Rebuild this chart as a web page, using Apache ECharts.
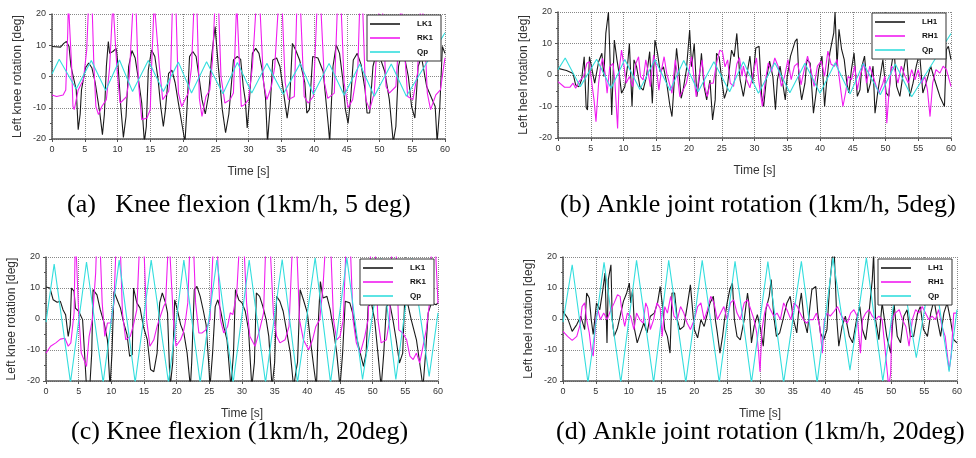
<!DOCTYPE html>
<html><head><meta charset="utf-8">
<script src="https://cdn.jsdelivr.net/npm/echarts@6/dist/echarts.min.js"></script>
<style>html,body{margin:0;padding:0;background:#fff}#c{width:976px;height:458px}</style>
</head><body><div id="c"></div>
<script>
// ---------- tick labels / captions ----------
const xTicks = [0,5,10,15,20,25,30,35,40,45,50,55,60];
const yTicks = [-20,-10,0,10,20];
const captions = ['(a)   Knee flexion (1km/h, 5 deg)','(b) Ankle joint rotation (1km/h, 5deg)','(c) Knee flexion (1km/h, 20deg)','(d) Ankle joint rotation (1km/h, 20deg)'];
const yNames = ['Left knee rotation [deg]','Left heel rotation [deg]','Left knee rotation [deg]','Left heel rotation [deg]'];
const namesKnee = ['LK1','RK1','Qp'];
const namesHeel = ['LH1','RH1','Qp'];

// ---------- panel (a) ----------
const aLK1 = [[0,9.6],[1.3,9.4],[1.8,10.6],[2.2,11.2],[2.6,9.6],[2.9,3.2],[3.7,-4.3],[4.0,-17],[4.3,-12],[4.5,-4.3],[5.1,2.7],[5.6,4.3],[6.1,2.7],[6.6,-2],[7.3,-11.7],[7.7,-18.6],[8.0,-12],[8.3,3.2],[8.6,11.2],[8.8,7.4],[9.3,8],[9.8,9],[10.1,3.2],[10.5,-9.6],[10.9,-19.5],[11.3,-12.8],[11.7,3.2],[12.2,8.3],[12.7,5.9],[13.2,-1],[13.7,-8.5],[14.1,-21],[14.4,-16],[14.7,2],[15.2,8.5],[15.7,6.4],[16.2,-1],[16.6,-9.6],[17.0,-16],[17.3,-11],[17.8,1],[18.3,2],[18.8,-2],[19.3,-8.5],[19.9,-16],[20.3,-21],[20.6,-10.6],[21.0,6.4],[21.5,8],[22.0,6.4],[22.5,-1],[22.9,-7.4],[23.4,-12],[23.9,-6],[24.4,7],[24.9,16],[25.4,3],[26.0,-10.6],[26.5,-18],[27.0,-12],[27.7,5.3],[28.3,6.4],[28.8,5.5],[29.2,-3.2],[29.5,-7.4],[29.8,-16.5],[30.1,-9],[30.6,7.4],[31.1,9],[31.6,7.4],[32.1,2],[32.6,-7],[32.9,-21],[33.3,-10],[33.7,5.3],[34.3,5.9],[34.8,3.2],[35.3,-4.3],[35.9,-13.3],[36.3,-7],[36.7,10.6],[37.2,8.5],[37.8,5.3],[38.6,-2],[38.9,-11.7],[39.3,-10.5],[39.8,6.4],[40.6,5.9],[41.4,1.6],[42.2,-16],[42.4,-21],[42.9,3.2],[43.4,10.1],[43.9,7.4],[44.4,-1],[44.8,-10.6],[45.2,-15],[45.6,-7],[46.0,5.3],[46.6,7.4],[47.2,3.7],[47.8,-4.3],[48.1,-11.7],[48.5,-11.7],[49.0,3.2],[49.5,7.4],[50.0,6.5],[50.8,1.6],[51.5,-7.4],[52.1,-21],[52.5,-16],[52.9,3.2],[53.4,8],[53.9,5.3],[54.4,0],[54.9,-9.6],[55.4,-13.3],[55.9,3.2],[56.4,6.4],[57.2,-3.2],[58.5,-9.6],[58.8,-21],[59.2,-10],[59.6,9.6],[60,7.4]];
const aRK1 = [[0,-5.9],[0.7,-6.4],[1.7,-5.9],[2.1,-4.3],[2.4,13.8],[2.5,24],[2.75,24],[3.0,3.2],[3.2,-9.6],[3.4,-10.6],[4.0,-4.3],[4.8,-1],[5.3,8.5],[5.6,24],[6.1,24],[6.4,3.2],[6.7,-9.6],[7.1,-12.2],[7.6,-9.6],[8.3,-7.4],[8.8,3],[9.3,24],[9.6,24],[9.9,3],[10.4,-8.5],[11.4,-6.4],[11.8,0],[12.4,24],[12.8,24],[13.2,-2],[13.7,-13.8],[14.5,-13.3],[15.0,-10.6],[15.2,3],[15.6,24],[15.9,24],[16.4,3],[16.9,-7.4],[17.8,-4.8],[18.1,0],[18.4,24],[18.9,24],[19.3,-5.3],[19.8,-9.6],[20.8,-5.3],[21.3,3],[21.7,24],[22.1,24],[22.5,-7],[22.9,-12.8],[23.5,-6.4],[24.1,-4.3],[24.5,5.3],[24.9,24],[25.4,24],[25.8,0],[26.4,-8.5],[27.2,-7.4],[27.7,-5.3],[28.2,24],[28.5,24],[28.9,-9.6],[29.4,-9],[30.0,-7.4],[30.6,3.2],[31.2,24],[31.7,24],[32.3,-2],[32.8,-7.4],[33.5,-3.2],[34.0,3],[34.6,24],[35.1,24],[35.6,-2],[36.1,-7.4],[37.0,-6.4],[37.4,24],[37.9,24],[38.5,-6.4],[39.1,-8.5],[39.9,-6.4],[40.5,24],[41.0,24],[41.6,-2],[42.1,-7],[43.1,-5.3],[43.6,24],[44.1,24],[44.6,-2],[45.2,-10],[45.9,-7.4],[46.7,3.2],[47.0,24],[47.4,24],[47.9,-7.4],[48.5,-10.6],[49.2,-5.3],[50.0,24],[50.4,24],[51.0,-3.2],[51.5,-5.3],[52.5,-3.2],[53.3,24],[53.6,24],[54.3,-6.4],[55.1,-7.4],[55.8,1],[56.3,24],[56.8,18],[57.3,-5.3],[57.8,-10.6],[58.6,-5.9],[59.3,-4.3],[59.8,3.2],[60,6]];
const aQp = [[0,0.8],[1.1,5.5],[3.7,-4],[6.0,5.1],[8.2,-4.5],[10.3,5.3],[12.3,-4.8],[14.7,5.1],[17.0,-4.8],[19.3,4.6],[21.3,-5.3],[23.6,4.7],[26.1,-5.5],[28.3,4.5],[30.5,-5.3],[32.8,4.2],[35.3,-5.7],[37.9,4.2],[39.9,-5.7],[42.3,4.2],[44.6,-6],[47.0,4],[49.2,-6.3],[51.8,4],[54.1,-6.3],[60,14]];

// ---------- panel (b) ----------
const bLH1 = [[0,2.1],[1.3,1.4],[2.3,0.5],[2.7,-3.2],[3.2,-3.7],[3.6,-1.5],[4.0,5.8],[4.3,-10.3],[4.5,-11.1],[4.8,5.8],[5.1,6.3],[5.6,-2.6],[6.2,4.2],[6.7,6.9],[7.0,-0.5],[7.3,13.2],[7.7,20],[7.9,7.9],[8.2,-12.7],[8.6,11.1],[9.0,4.8],[9.4,-0.5],[9.7,-5.8],[10.2,-3.7],[10.6,2.6],[10.9,10],[11.3,-10],[11.6,4.8],[12.0,2.6],[12.5,-3.7],[13.0,-4.8],[13.5,-0.5],[14.0,7.4],[14.4,-9],[14.8,11.1],[15.2,6.9],[15.6,1],[16.1,2.6],[16.6,-2.6],[17.1,-10],[17.4,-13.2],[17.7,-3.7],[18.1,8.5],[18.4,2.6],[18.8,-7.4],[19.1,-4.8],[19.6,1.6],[20.1,14.3],[20.4,2.6],[20.8,10],[21.2,-6.9],[21.6,-0.5],[21.9,6.9],[22.3,-3.7],[22.7,-7.9],[23.2,-1.6],[23.6,-14.3],[24.0,-7.9],[24.2,6.9],[24.6,5.8],[25.0,-1.6],[25.4,-7.4],[25.8,-4.8],[26.2,2.6],[26.5,7.9],[26.9,5.8],[27.3,13.2],[27.8,-1.5],[28.3,-6.8],[28.8,-0.4],[29.3,6],[29.7,-2.6],[30.2,8.6],[30.7,9.1],[31.1,-6.8],[31.4,-10],[31.8,-1.5],[32.3,4.4],[32.8,-0.4],[33.2,-11],[33.5,-1.5],[33.9,2.8],[34.3,-2.6],[34.7,-7.9],[35.0,-0.4],[35.5,6],[36.2,10.7],[36.5,11.5],[36.8,-1.5],[37.2,-7.9],[37.7,-2.6],[38.0,4.9],[38.5,3.8],[39.0,-12.1],[39.4,-5.7],[39.8,1.7],[40.3,6],[40.7,-10],[41.0,-2.6],[41.5,7],[42.1,13.4],[42.3,20],[42.6,2.8],[42.9,14.5],[43.3,8.1],[43.7,4.9],[44.1,-2.6],[44.4,-5.7],[44.8,1.7],[45.2,7],[45.7,-6.8],[46.1,-4.7],[46.4,2.8],[46.8,6],[47.3,-5.7],[47.7,-2.6],[48.1,2.8],[48.4,-12.1],[48.8,-5.7],[49.2,-0.4],[49.6,4.9],[50.1,-5.7],[50.5,-6.8],[50.9,2.8],[51.3,8.1],[51.7,-3.6],[52.2,-6.8],[52.7,0.6],[53.2,7],[53.7,-6.8],[54.2,-2.6],[54.7,2.8],[55.2,7],[55.7,-5.7],[56.2,-2.6],[56.9,2.8],[57.5,-1.5],[58.3,-6.8],[59.0,-10],[59.3,8.1],[59.6,9.1],[60,4.9]];
const bRH1 = [[0,-2.1],[1.0,-3.9],[1.8,-3.9],[2.3,-2.6],[2.7,-4.2],[3.2,-2.1],[3.9,-0.5],[4.4,3.7],[4.8,4.2],[5.1,-1.6],[5.5,-7.9],[5.8,-14.8],[6.2,-2.6],[6.5,2.6],[6.8,5.3],[7.2,0.5],[7.5,-5.8],[7.9,2.6],[8.4,3.7],[8.7,-2.6],[9.1,-17],[9.4,2.6],[9.7,7.9],[10.1,2.6],[10.4,-2.6],[10.9,-0.5],[11.4,-3.7],[11.9,3.7],[12.3,5.8],[12.6,-0.5],[13.0,-1.6],[13.4,4.8],[13.8,0.5],[14.1,-3.7],[14.6,6.3],[15.0,2.6],[15.4,-4.8],[15.8,1.6],[16.2,5.8],[16.6,0.5],[17.0,-2.6],[17.4,-5.8],[17.9,4.8],[18.2,0.5],[18.6,-6.9],[19.1,-4.8],[19.6,-2.6],[20.1,2.6],[20.4,5.8],[20.8,-1.6],[21.1,-6.9],[21.6,0.5],[22.0,4.8],[22.4,-3.7],[22.8,-6.9],[23.2,-2.6],[23.7,-2.6],[24.2,3.7],[24.7,7.9],[25.1,7.4],[25.5,2.6],[25.9,4.8],[26.3,-2.6],[26.8,-3.6],[27.3,3.5],[27.7,5.5],[28.1,-0.4],[28.3,2.8],[28.8,-1.5],[29.3,-4.1],[29.8,0.6],[30.3,5.4],[30.7,-2.6],[31.2,-10],[31.6,-2.6],[32.1,3.8],[32.6,1.1],[33.1,5.4],[33.6,2.8],[34.1,-3.6],[34.6,-0.4],[35.1,4.9],[35.6,-1.5],[36.1,2.8],[36.6,3.8],[37.1,-3.1],[37.6,1.7],[38.1,6],[38.6,1.7],[39.1,-3.6],[39.6,2.8],[40.2,4.4],[40.7,-0.4],[41.2,7.6],[41.7,3.4],[42.2,2.8],[42.6,4.9],[43.1,-3.6],[43.5,-10],[43.9,-5.7],[44.3,-0.4],[44.8,-1.5],[45.3,2.8],[45.7,-4.7],[46.1,-0.4],[46.7,3.8],[47.1,-2.6],[47.6,2.8],[48.1,-0.4],[48.6,-3.6],[49.0,-5.7],[49.6,-2.6],[49.9,-0.4],[50.2,-15.3],[50.6,-3.6],[50.9,2.8],[51.4,1.7],[51.9,-2.6],[52.4,2.8],[53.0,-0.4],[53.5,-2.6],[54.0,1.7],[54.5,-1.5],[55.0,1.7],[55.5,-2.6],[56.0,-0.4],[56.4,-4.7],[56.8,-13.2],[57.2,-2.6],[57.7,1.7],[58.3,0.6],[58.8,2.8],[59.3,1.7],[60,-3.6]];
const bQp = [[0,1.7],[1.1,5.4],[3.4,-3.7],[5.9,5],[8.1,-4.2],[10.2,4.9],[12.5,-4.6],[14.8,4.9],[17.1,-4.9],[19.2,4.6],[21.4,-5.3],[23.8,4.2],[26.2,-5.3],[28.3,4.2],[30.6,-5.8],[33.1,3.9],[35.4,-5.6],[37.7,3.7],[40.0,-5.8],[42.3,3.8],[44.6,-6],[46.6,3.7],[49.2,-6.3],[51.5,3.5],[54.0,-6.9],[60,13.2]];

// ---------- panel (c) ----------
const cLK1 = [[0,10.3],[0.6,10],[1.1,6.2],[1.7,5.4],[2.2,5.7],[2.6,3],[3.0,1.4],[3.4,-5.6],[3.7,-2],[3.9,10],[4.3,8.9],[4.5,3.5],[5.0,2.5],[5.6,-0.2],[5.9,-11],[6.2,-22],[6.7,-22],[7.0,-11],[7.2,9.5],[7.8,7.8],[8.3,3],[8.9,-1.3],[9.4,-6.7],[9.8,-22],[10.1,-11],[10.4,8.9],[10.9,6.2],[11.4,3.5],[11.9,-1.3],[12.4,-5],[12.8,-12],[13.2,-11.5],[13.4,10],[13.9,5.2],[14.4,3.5],[14.9,-2.4],[15.5,-6.7],[16.0,-16.3],[16.5,-17],[17.0,-11],[17.4,5.2],[17.8,8.4],[18.3,5.2],[18.6,2],[19.0,-22],[19.4,-14],[19.7,6.2],[20.1,3],[20.6,-1.8],[21.1,-4.5],[21.6,-11],[22.1,-22],[22.3,-14],[22.7,9.5],[23.1,10.5],[23.6,7.3],[24.1,2.5],[24.5,-1.8],[24.9,-14.2],[25.1,-22],[25.5,-11],[25.9,4],[26.3,6.2],[26.7,3],[27.2,-2.4],[27.7,-6.7],[28.3,-22],[28.7,-11],[29.0,9.5],[29.5,6.2],[30.0,5.2],[30.5,2.5],[31.0,-3.5],[31.5,-22],[31.9,-14],[32.2,8.4],[32.7,7.3],[33.2,4],[33.7,-0.2],[34.1,-5.6],[34.6,-22],[35.0,-14],[35.3,7.3],[35.8,5.7],[36.3,2.5],[36.8,-3.5],[37.4,-11],[37.9,-22],[38.3,-16.3],[38.5,-14],[38.9,9.5],[39.4,6.2],[40.0,2],[40.4,-5.6],[41.0,-15.8],[41.4,-22],[41.7,-0.2],[42.0,12.1],[42.4,6.8],[43.0,7.3],[43.5,3],[44.0,-3.5],[44.5,-11],[45.0,-22],[45.4,-11],[45.8,5.7],[46.1,6.2],[46.5,5.2],[47.0,1.4],[47.5,-5.6],[48.1,-11],[48.6,-15.3],[49.0,-11],[49.3,4],[49.8,5.2],[50.3,-0.2],[50.8,-11],[51.3,-22],[51.7,-11],[52.1,4],[52.6,5.2],[53.1,-0.2],[53.6,-6.7],[54.1,-14.2],[54.6,-11],[54.9,6.2],[55.4,4.6],[55.9,-0.2],[56.7,-6.7],[57.2,-14.2],[57.7,-22],[58.1,-11],[58.5,2],[59.0,5.2],[59.7,4.6],[60,5.2]];
const cRK1 = [[0,-11],[0.7,-8.8],[1.5,-7.7],[2.2,-6.5],[2.9,-6.2],[3.4,-8.8],[3.8,-7.7],[4.3,2],[4.5,28],[4.8,28],[5.0,2],[5.4,-11],[5.8,-13.1],[6.2,-15.3],[6.6,-5.6],[7.1,-0.2],[7.6,14.8],[7.8,28],[8.2,28],[8.6,5.2],[9.0,-5.6],[9.4,-1.3],[9.9,-1.3],[10.4,5.2],[10.8,28],[11.3,28],[11.7,2],[12.2,-6.7],[12.9,-5.6],[13.4,-1.8],[13.9,3],[14.4,28],[14.9,28],[15.4,-0.2],[15.9,-8.8],[16.5,-6.7],[17.0,-2.4],[17.5,0.9],[18.0,4],[18.3,5.2],[18.8,28],[19.0,28],[19.5,-0.2],[19.9,-8.8],[20.6,-6.7],[21.0,-4.5],[21.3,-1.3],[21.7,5.2],[22.1,28],[22.5,28],[22.9,5.2],[23.4,-4.5],[23.9,-4.5],[24.5,-3.4],[25.1,-0.2],[25.7,28],[26.1,28],[26.7,-0.2],[27.2,-4.5],[27.8,-2.4],[28.2,2],[28.6,1.4],[29.2,8.4],[29.7,28],[30.2,28],[30.7,5.2],[31.2,-5.6],[32.0,-8.8],[32.7,-3.5],[33.3,2],[33.7,28],[34.2,28],[34.8,2],[35.3,-5.6],[35.8,-7.7],[36.6,-6.7],[37.2,-2.4],[37.8,28],[38.3,28],[38.8,-0.2],[39.4,-6.7],[40.2,-9.9],[40.8,-6.7],[41.3,-2.4],[41.9,-0.2],[42.4,10.5],[42.9,28],[43.5,28],[44.0,-0.2],[44.5,-6.7],[45.0,-5.6],[45.5,-0.2],[46.0,28],[46.5,28],[47.0,-0.2],[47.5,-7.7],[48.1,-11],[48.8,-5.6],[49.3,-0.2],[49.8,28],[50.3,28],[50.8,-0.2],[51.3,-7.7],[52.1,-6.7],[52.6,-0.2],[53.0,28],[53.5,28],[54.0,-3.5],[54.6,-4.5],[55.2,-6.7],[55.7,-12],[56.2,-13.1],[56.7,-11],[57.2,-14.2],[57.7,-8.8],[58.2,-3.5],[58.7,5.2],[59.1,28],[59.5,28],[60,5]];
const cQp = [[0,-1],[1.25,17.7],[3.75,-20.5],[6.2,18.4],[8.75,-20.5],[11.2,19],[13.65,-20.5],[16.1,19],[18.75,-20.5],[21.1,19],[23.6,-20.5],[26.15,19],[28.65,-20.5],[31.1,19],[33.6,-20.5],[36.15,19.2],[38.5,-20.5],[41.2,19.7],[43.55,-20.5],[46.05,19.7],[48.45,-19.5],[51.3,19.5],[53.55,-19.5],[56.0,19.5],[58.65,-18.5],[60,2]];

// ---------- panel (d) ----------
const dLH1 = [[0,2.5],[0.7,0.3],[1.4,-4],[2.1,-1.8],[2.7,0.9],[3.3,-3.4],[3.6,8.4],[4.0,6.8],[4.3,-0.2],[4.6,-5],[5.1,5.2],[5.6,3],[6.0,8.4],[6.4,14.8],[6.7,-7.7],[6.9,12.7],[7.3,17.5],[7.5,-0.2],[7.8,-5.6],[8.3,-2.9],[8.8,1.9],[9.2,5.7],[9.7,8.4],[10.1,11.6],[10.3,5.2],[10.6,9.5],[10.9,-3.4],[11.3,-7.7],[11.8,-4.5],[12.3,-1.3],[12.8,-4.5],[13.3,0.9],[13.9,1.9],[14.4,5.2],[14.8,10.5],[15.1,5.2],[15.5,-3.4],[15.9,-5.6],[16.3,-11],[16.6,8.4],[17.0,8.4],[17.4,-0.2],[17.8,-3.4],[18.4,-2.4],[18.9,4],[19.4,11],[19.7,10.5],[20.0,-3.4],[20.5,-6.1],[21.0,-0.2],[21.5,-2.4],[22.0,1.9],[22.4,5.2],[22.9,7.3],[23.2,-0.2],[23.5,-4.5],[23.9,-11],[24.3,-5.6],[24.6,-0.2],[25.0,5.2],[25.4,9.5],[25.8,11.6],[26.1,-0.2],[26.5,-5.6],[27.0,-6.7],[27.6,-0.2],[28.1,8.4],[28.3,5.2],[28.7,-7.7],[29.1,-2.4],[29.6,1.4],[30.1,-3.4],[30.5,-8.8],[30.9,3],[31.4,7.3],[31.7,12.7],[32.1,0.9],[32.5,-5.6],[33.0,-4.5],[33.5,-0.2],[34.1,5.2],[34.6,7.3],[35.1,-0.2],[35.6,-4.5],[35.9,3],[36.3,8.4],[36.7,-0.2],[37.2,-4.5],[37.6,4],[37.9,9.5],[38.5,10.5],[38.8,1.9],[39.2,-4.5],[39.7,-6.7],[40.2,-3.4],[40.6,10.5],[41.0,19.7],[41.3,22],[41.7,-0.2],[42.0,-8.8],[42.5,-2.4],[43.0,0.9],[43.6,-5.6],[44.1,-7.7],[44.7,-0.2],[45.2,4],[45.6,-3.4],[46.1,-6.7],[46.6,1.9],[47.1,12.7],[47.3,21],[47.6,-0.2],[48.1,-6.7],[48.6,5.2],[49.3,-5.6],[49.9,-11],[50.4,5.2],[50.9,-5.6],[51.4,-7.7],[51.9,0.9],[52.4,3],[52.9,-5.6],[53.4,-5.6],[54.0,1.9],[54.4,4],[54.9,-3.4],[55.5,-5.6],[56.0,1.9],[56.5,6.2],[57.0,-0.2],[57.5,-5.6],[58.0,1.9],[58.5,5.2],[59.0,-0.2],[59.5,-6.7],[60,-7.7]];
const dRH1 = [[0,-4],[0.7,-5.6],[1.4,-6.9],[2.1,-5.6],[2.6,-1.8],[2.9,4],[3.3,5.2],[3.6,-0.2],[4.0,-4.5],[4.3,-10],[4.6,-12],[5.0,-0.2],[5.3,3],[5.7,-0.2],[6.2,1.9],[6.7,-0.2],[7.3,3],[7.8,5.2],[8.3,7.8],[8.7,7.3],[9.0,1.9],[9.4,-2.4],[9.8,1.9],[10.3,0.9],[10.8,-3.4],[11.2,1.9],[11.7,-0.2],[12.2,-1.3],[12.6,5.2],[12.9,3.5],[13.3,-3.4],[13.8,-0.2],[14.3,5.2],[14.8,3.5],[15.1,-5.6],[15.5,4],[15.9,1.9],[16.4,7.3],[16.9,0.9],[17.4,-0.2],[17.9,4],[18.4,1.9],[18.9,-1.3],[19.4,-3.4],[20.0,-0.2],[20.5,4],[21.0,5.2],[21.5,-0.2],[22.0,3],[22.5,7.3],[23.0,5.2],[23.5,-0.2],[24.0,1.9],[24.5,4],[25.0,-0.2],[25.5,5.2],[26.0,6.2],[26.5,1.9],[27.0,-0.2],[27.6,5.2],[28.1,6.2],[28.6,3],[29.1,-0.2],[29.5,-4.5],[29.8,-11],[30.0,-17],[30.3,-3.4],[30.7,1.9],[31.1,5.2],[31.6,3],[32.1,0.9],[32.6,1.9],[33.1,-0.2],[33.6,5.2],[34.1,3],[34.7,-0.2],[35.2,5.2],[35.7,4],[36.1,1.9],[36.6,-0.2],[37.1,-1.3],[37.6,-0.2],[38.1,-0.2],[38.6,1.9],[39.1,-2.4],[39.5,-11],[39.8,-0.2],[40.2,1.9],[40.7,0.9],[41.3,2.5],[41.8,4],[42.3,1.4],[42.8,-0.2],[43.3,-1.3],[43.8,1.9],[44.3,3],[44.8,0.9],[45.3,-11],[45.6,-0.2],[46.1,1.9],[46.6,3],[47.1,0.9],[47.6,-0.2],[48.1,0.9],[48.6,-0.2],[49.1,-11],[49.4,-17.4],[49.6,-22],[49.9,-17.4],[50.1,-0.2],[50.6,1.9],[51.2,3],[51.7,-0.2],[52.2,-2.4],[52.7,-8.8],[53.2,-0.2],[53.7,3],[54.2,1.9],[54.7,4],[55.2,1.9],[55.7,-0.2],[56.2,0.9],[56.7,-0.2],[57.2,3],[57.7,-2.4],[58.2,-5.6],[58.8,-16.5],[59.1,-12],[59.5,1.9],[60,1.9]];
const dQp = [[0,-1],[1.4,17.5],[3.8,-20.5],[6.25,18.3],[8.8,-20.5],[11.2,18.9],[13.8,-20.5],[16.1,18.9],[18.7,-20.5],[21.2,18.9],[23.8,-20.5],[26.2,18.6],[28.7,-20.5],[31.2,18.5],[33.6,-20.5],[36.3,18.6],[38.7,-20.5],[41.1,19.7],[43.7,-16.5],[46.2,19.7],[48.7,-20],[51.3,19],[53.8,-12.5],[56.3,18.5],[58.8,-17],[60,3]];

// ---------- build ----------
const COLORS = ['#1a1a1a','#f01cf0','#34dede'];
const panels = [
  {grid:{left:52,top:14,width:393,height:125}, legend:{left:367,top:15}, cap:{left:67,top:192}, names:namesKnee, data:[aLK1,aRK1,aQp]},
  {grid:{left:558,top:12,width:393,height:126}, legend:{left:872,top:13}, cap:{left:560,top:192}, names:namesHeel, data:[bLH1,bRH1,bQp]},
  {grid:{left:46,top:257,width:392,height:124}, legend:{left:360,top:259}, cap:{left:71,top:419}, names:namesKnee, data:[cLK1,cRK1,cQp]},
  {grid:{left:563,top:257,width:394,height:124}, legend:{left:878,top:259}, cap:{left:556,top:419}, names:namesHeel, data:[dLH1,dRH1,dQp]}
];
const FONT = 'Liberation Sans, Arial, sans-serif';
const option = {animation:false, backgroundColor:'#fff', grid:[], xAxis:[], yAxis:[], series:[], legend:[], title:[]};
panels.forEach((p,i)=>{
  option.grid.push(Object.assign({containLabel:false, show:false}, p.grid));
  option.xAxis.push({type:'value', gridIndex:i, min:xTicks[0], max:xTicks[xTicks.length-1], interval:xTicks[1]-xTicks[0],
    name:'Time [s]', nameLocation:'middle', nameGap:27, nameTextStyle:{fontFamily:FONT,fontSize:12,color:'#333'},
    axisLine:{show:true, onZero:false, lineStyle:{color:'#555',width:1.5}},
    axisTick:{show:true, length:3, lineStyle:{color:'#555'}},
    axisLabel:{fontFamily:FONT,fontSize:9,color:'#333',margin:6},
    splitLine:{show:true, lineStyle:{type:'dotted', color:'#888', width:1}}});
  option.yAxis.push({type:'value', gridIndex:i, min:yTicks[0], max:yTicks[yTicks.length-1], interval:yTicks[1]-yTicks[0],
    name:yNames[i], nameLocation:'middle', nameGap:28, nameRotate:90, nameTextStyle:{fontFamily:FONT,fontSize:12,color:'#333'},
    axisLine:{show:true, onZero:false, lineStyle:{color:'#555',width:1.5}},
    axisTick:{show:true, length:3, lineStyle:{color:'#555'}},
    minorTick:{show:true, splitNumber:2, length:2, lineStyle:{color:'#555'}},
    axisLabel:{fontFamily:FONT,fontSize:9,color:'#333',margin:6},
    splitLine:{show:true, lineStyle:{type:'dotted', color:'#888', width:1}}});
  p.names.forEach((n,k)=>{
    option.series.push({type:'line', name:n, xAxisIndex:i, yAxisIndex:i, data:p.data[k], symbol:'none', clip:true,
      lineStyle:{color:COLORS[k], width:1.1}, itemStyle:{color:COLORS[k]}, z:2+k});
  });
  option.legend.push({orient:'vertical', left:p.legend.left, top:p.legend.top, selectedMode:false,
    data:p.names.map((n,k)=>({name:n, icon:'rect', itemStyle:{color:COLORS[k]}})),
    itemWidth:30, itemHeight:1.6, itemGap:4, padding:[4,8,4,3], backgroundColor:'#fff', borderColor:'#333', borderWidth:1,
    textStyle:{fontFamily:FONT, fontSize:8, fontWeight:'bold', color:'#111', padding:[0,0,0,12], lineHeight:10}, z:10});
  option.title.push({text:captions[i], left:p.cap.left, top:p.cap.top, padding:0,
    textStyle:{fontFamily:'Liberation Serif, Times New Roman, serif', fontSize:26, fontWeight:'normal', color:'#000'}});
});
const chart = echarts.init(document.getElementById('c'), null, {renderer:'canvas'});
chart.setOption(option);
</script></body></html>
